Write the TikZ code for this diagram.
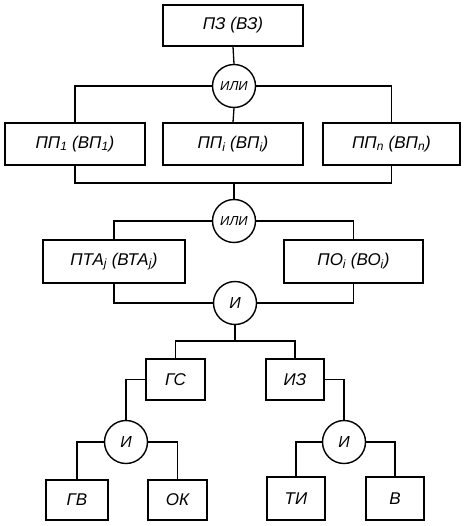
\documentclass[tikz,border=0pt]{standalone}
\usepackage{fontspec}
\setmainfont{Liberation Sans}
\newcommand{\sbs}[1]{\textsubscript{\fontsize{12}{12}\selectfont\itshape #1}}
\begin{document}
\begin{tikzpicture}[x=1pt,y=-1pt,
  box/.style={draw, line width=1.5pt, inner sep=0pt, font=\fontsize{17}{19}\selectfont\itshape},
  gate/.style={draw, circle, line width=1.4pt, inner sep=0pt, minimum size=43pt, font=\fontsize{13}{15}\selectfont\itshape},
  conn/.style={line width=1.3pt}]
\useasboundingbox (0,0) rectangle (466,526);
% boxes
\node[box, minimum width=140pt, minimum height=41pt] (pz) at (233,25.5) {ПЗ (ВЗ)};
\node[box, minimum width=140pt, minimum height=42pt] (pp1) at (75,144) {ПП\sbs{1} (ВП\sbs{1})};
\node[box, minimum width=140pt, minimum height=42pt] (ppi) at (233,144) {ПП\sbs{i} (ВП\sbs{i})};
\node[box, minimum width=137pt, minimum height=42pt] (ppn) at (391.5,144) {ПП\sbs{n} (ВП\sbs{n})};
\node[box, minimum width=142pt, minimum height=43pt] (pta) at (114,261.5) {ПТА\sbs{j} (ВТА\sbs{j})};
\node[box, minimum width=139pt, minimum height=43pt] (po) at (353.5,261.5) {ПО\sbs{i} (ВО\sbs{i})};
\node[box, minimum width=59pt, minimum height=41pt] (gs) at (175.5,379.5) {ГС};
\node[box, minimum width=58pt, minimum height=41pt] (iz) at (295,379.5) {ИЗ};
\node[box, minimum width=62pt, minimum height=40pt] (gv) at (77,500) {ГВ};
\node[box, minimum width=59pt, minimum height=40pt] (ok) at (177.5,500) {ОК};
\node[box, minimum width=58pt, minimum height=43pt] (ti) at (296,498.5) {ТИ};
\node[box, minimum width=58pt, minimum height=43pt] (v) at (395,498.5) {В};
% gates
\node[gate] (or1) at (234,86) {ИЛИ};
\node[gate] (or2) at (234,221) {ИЛИ};
\node[gate, font=\fontsize{16}{18}\selectfont\itshape] (and1) at (235,303) {И};
\node[gate, font=\fontsize{16}{18}\selectfont\itshape] (and2) at (126,442) {И};
\node[gate, font=\fontsize{16}{18}\selectfont\itshape] (and3) at (344,442) {И};
% junctions
\coordinate (j1) at (234,183);
\coordinate (j2) at (235,341);
% connectors
\draw[conn] (pz.south) -- (or1.north);
\draw[conn] (or1.west) -| (pp1.north);
\draw[conn] (or1.south) -- (ppi.north);
\draw[conn] (or1.east) -| (ppn.north);
\draw[conn] (pp1.south) |- (j1) -| (ppn.south);
\draw[conn] (j1) -- (or2.north);
\draw[conn] (or2.west) -| (pta.north);
\draw[conn] (or2.east) -| (po.north);
\draw[conn] (pta.south) |- (and1.west);
\draw[conn] (po.south) |- (and1.east);
\draw[conn] (and1.south) -- (j2);
\draw[conn] (gs.north) |- (j2) -| (iz.north);
\draw[conn] (gs.west) -| (and2.north);
\draw[conn] (and2.west) -| (gv.north);
\draw[conn] (and2.east) -| (ok.north);
\draw[conn] (iz.east) -| (and3.north);
\draw[conn] (and3.west) -| (ti.north);
\draw[conn] (and3.east) -| (v.north);
\end{tikzpicture}
\end{document}
